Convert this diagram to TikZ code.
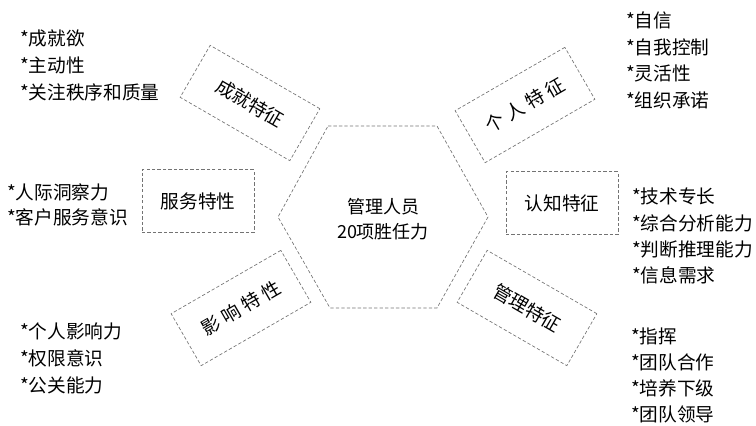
\documentclass[tikz,border=0pt]{standalone}
\usepackage{fontspec}
\setmainfont{Noto Sans CJK SC}
\begin{document}
\begin{tikzpicture}[x=0.75pt,y=-0.75pt,
  dbox/.style={draw=black!55,dashed,dash pattern=on 2.5pt off 1.6pt,line width=0.5pt,
    inner sep=0pt,font=\fontsize{14}{16}\selectfont},
  rbox/.style={dbox,minimum width=95pt,minimum height=45pt},
  sbox/.style={dbox,minimum width=84pt,minimum height=47pt},
  item/.style={anchor=west,inner sep=0pt,font=\fontsize{14}{16}\selectfont}]
\useasboundingbox (0,0) rectangle (756,425);
% hexagon
\coordinate (h1) at (328,126);
\coordinate (h2) at (437,126);
\coordinate (h3) at (488,217);
\coordinate (h4) at (437,308);
\coordinate (h5) at (330,308);
\coordinate (h6) at (278,217);
\draw[draw=black!55,dashed,dash pattern=on 2.5pt off 1.6pt,line width=0.5pt]
  (h1) -- (h2) -- (h3) -- (h4) -- (h5) -- (h6) -- cycle;
\node[align=center,font=\fontsize{13.5}{19}\selectfont] (center) at (383,219) {管理人员\\20项胜任力};
% boxes
\node[rbox,rotate=-30] (b1) at (250,103) {成就特征};
\node[rbox,rotate=30] (b2) at (525,105) {个\hspace{3.5pt}人\hspace{3.5pt}特\hspace{3.5pt}征};
\node[sbox] (b3) at (198,201) {服务特性};
\node[sbox] (b4) at (562,203) {认知特征};
\node[rbox,rotate=30] (b5) at (241,308) {影\hspace{3.5pt}响\hspace{3.5pt}特\hspace{3.5pt}性};
\node[rbox,rotate=-30] (b6) at (527,308) {管理特征};
% lists
\node[item] (a1) at (20,38) {*成就欲};
\node[item] (a2) at (20,65) {*主动性};
\node[item] (a3) at (20,92) {*关注秩序和质量};
\node[item] (c1) at (626,20) {*自信};
\node[item] (c2) at (626,47) {*自我控制};
\node[item] (c3) at (626,73) {*灵活性};
\node[item] (c4) at (626,100) {*组织承诺};
\node[item] (d1) at (7,192) {*人际洞察力};
\node[item] (d2) at (7,217) {*客户服务意识};
\node[item] (e1) at (632,196) {*技术专长};
\node[item] (e2) at (632,223) {*综合分析能力};
\node[item] (e3) at (632,249) {*判断推理能力};
\node[item] (e4) at (632,275) {*信息需求};
\node[item] (f1) at (20,331) {*个人影响力};
\node[item] (f2) at (20,358) {*权限意识};
\node[item] (f3) at (20,385) {*公关能力};
\node[item] (g1) at (631,336) {*指挥};
\node[item] (g2) at (631,362) {*团队合作};
\node[item] (g3) at (631,388) {*培养下级};
\node[item] (g4) at (631,414) {*团队领导};
\end{tikzpicture}
\end{document}
